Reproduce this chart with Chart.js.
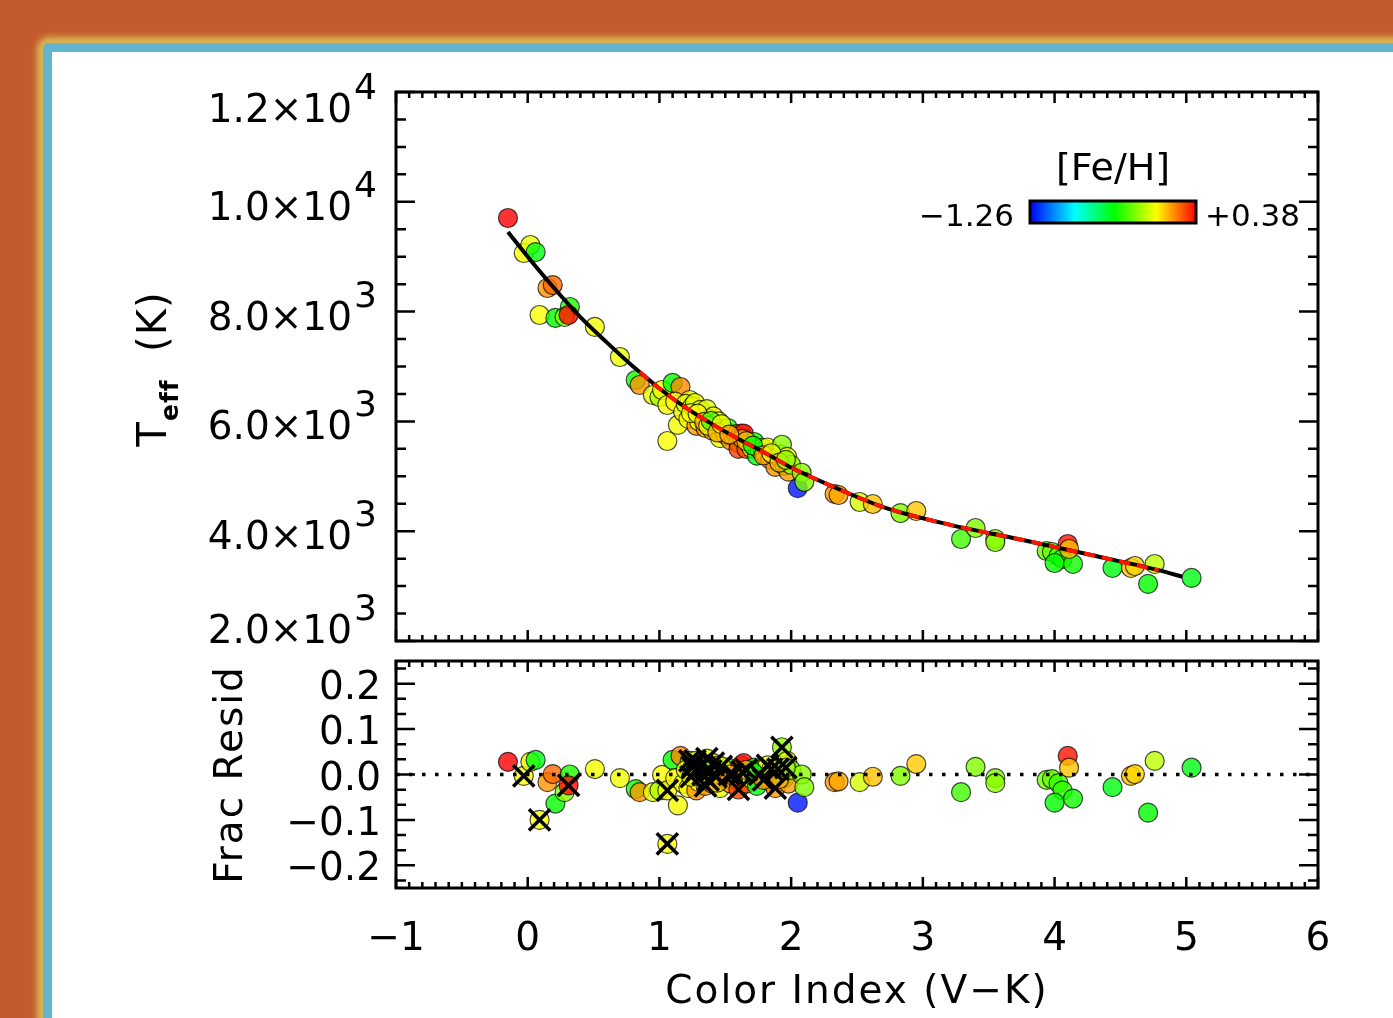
<!DOCTYPE html>
<html>
<head>
<meta charset="utf-8">
<script src="https://cdn.jsdelivr.net/npm/chart.js@4.4.1/dist/chart.umd.min.js"></script>
<style>
  html, body { margin: 0; padding: 0; width: 1393px; height: 1018px; overflow: hidden; background: #c35b2d; }
  #panel {
    position: absolute; left: 43px; top: 43px; width: 1420px; height: 1040px;
    background: #fff; border-left: 9px solid #62b6cf; border-top: 9px solid #62b6cf;
    border-top-left-radius: 6px; box-shadow: 0 0 6px 6px #dcb955;
  }
  canvas { position: absolute; left: 0; top: 0; }
</style>
</head>
<body>
<div id="panel"></div>
<canvas id="teffChart" width="1393" height="1018"></canvas>
<canvas id="residChart" width="1393" height="1018"></canvas>
<script>
// stars: V-K colour, Teff (K), fractional residual, [Fe/H], crossed in residual panel
const vk = [
  -0.15, -0.03, 0.02, 0.06, 0.15, 0.19, 0.09, 0.21, 0.32, 0.28, 0.31, 0.51, 0.70, 0.82, 0.85,
  0.95, 1.00, 1.02, 1.06, 1.10, 1.16, 1.06, 1.14, 1.12, 1.23,
  1.18, 1.20, 1.22, 1.25, 1.27, 1.28, 1.30, 1.31, 1.33, 1.35, 1.36, 1.38, 1.40, 1.41, 1.43,
  1.45, 1.46, 1.48, 1.50, 1.52, 1.54, 1.56, 1.58, 1.60, 1.62, 1.64, 1.60, 1.63, 1.66, 1.68,
  1.70, 1.72, 1.74, 1.76, 1.78, 1.80, 1.82, 1.84, 1.86, 1.88, 1.90, 1.92, 1.93, 1.95, 1.97,
  1.98, 2.00, 2.05, 2.08, 2.10,
  2.33, 2.36, 2.52, 2.62, 2.83, 2.95, 3.29, 3.40, 3.55, 3.55, 3.94, 3.98, 4.03, 4.06, 4.00,
  4.14, 4.10, 4.11, 4.44, 4.58, 4.61, 4.76, 4.71, 5.04,
  1.24, 1.29, 1.34, 1.37, 1.39, 1.44, 1.47, 1.53, 1.66, 1.71, 1.79, 1.85, 1.91, 1.96
];
const teff = [
  9705, 9067, 9213, 9085, 8430, 8484, 7938, 7884, 8084, 7902, 7938, 7720, 7173, 6754, 6663,
  6481, 6444, 6572, 6299, 6700, 6627, 5643, 5935, 6360, 6390,
  6170, 6320, 6045, 6275, 6335, 5920, 6000, 6210, 6060, 5880, 6225, 6045, 5835, 6090, 5880,
  6000, 5695, 5875, 5760, 5880, 5655, 5745, 5770, 5605, 5780, 5780, 5500, 5680, 5500, 5590,
  5510, 5625, 5375, 5490, 5520, 5415, 5525, 5310, 5385, 5170, 5365, 5400, 5575, 5190, 5355,
  5085, 5210, 4785, 5065, 4900,
  4678, 4659, 4532, 4495, 4331, 4368, 3858, 4058, 3858, 3803, 3639, 3621, 3548, 3494, 3421,
  3403, 3767, 3676, 3330, 3330, 3366, 3403, 3040, 3148,
  6150, 6140, 5990, 5920, 6010, 5800, 5950, 5760, 5640, 5560, 5380, 5420, 5250, 5300
];
const resid = [
  0.028, -0.003, 0.028, 0.032, -0.017, 0.001, -0.100, -0.064, 0.000, -0.039, -0.024, 0.012, -0.008, -0.032, -0.039,
  -0.039, -0.035, -0.001, -0.035, 0.032, 0.041, -0.153, -0.068, -0.008, 0.030,
  -0.020, 0.010, -0.030, 0.015, 0.030, -0.035, -0.017, 0.020, 0.000, -0.025, 0.035, 0.010, -0.020, 0.025, -0.005,
  0.020, -0.030, 0.005, -0.010, 0.015, -0.020, 0.000, 0.010, -0.015, 0.020, 0.025, -0.033, 0.005, -0.020, 0.000,
  -0.010, 0.015, -0.025, 0.000, 0.010, -0.005, 0.020, -0.015, 0.005, -0.030, 0.012, 0.025, 0.060, -0.008, 0.030,
  -0.020, 0.010, -0.062, 0.000, -0.028,
  -0.017, -0.015, -0.017, -0.005, -0.003, 0.023, -0.039, 0.017, -0.008, -0.019, -0.012, -0.010, -0.019, -0.035, -0.062,
  -0.053, 0.041, 0.015, -0.028, -0.003, 0.001, 0.030, -0.084, 0.015,
  -0.005, 0.012, -0.010, -0.012, 0.008, -0.018, 0.018, 0.000, 0.010, 0.005, -0.012, 0.012, -0.010, 0.015
];
const feh = [
  0.38, -0.02, -0.05, -0.45, 0.15, 0.22, -0.02, -0.42, -0.38, -0.20, 0.36, -0.03, -0.04, -0.40, 0.15,
  -0.05, -0.15, -0.02, -0.02, -0.42, 0.17, -0.02, -0.03, 0.00, -0.05,
  -0.03, -0.06, -0.01, -0.18, -0.04, 0.14, -0.02, -0.05, -0.03, 0.13, -0.06, -0.20, 0.15, -0.02, -0.40,
  -0.04, -0.03, 0.12, -0.05, -0.38, 0.16, -0.03, 0.08, -0.18, 0.24, 0.36, 0.28, 0.15, 0.26, -0.42,
  -0.04, -0.40, -0.44, -0.05, -0.18, -0.02, -0.04, 0.08, 0.14, 0.15, -0.03, -0.18, -0.20, -0.40, -0.03,
  0.14, -0.18, -1.22, -0.20, -0.22,
  0.15, 0.12, -0.08, 0.08, -0.22, 0.07, -0.32, -0.22, -0.22, -0.20, -0.25, -0.25, -0.33, -0.35, -0.42,
  -0.40, 0.35, 0.08, -0.45, 0.08, 0.05, -0.12, -0.42, -0.45,
  -0.03, -0.02, 0.10, -0.05, -0.30, 0.10, -0.04, 0.12, 0.08, -0.42, 0.14, -0.05, 0.10, -0.18
];
const crossed = [
  0, 1, 0, 0, 0, 0, 1, 0, 0, 0, 1, 0, 0, 0, 0,
  0, 0, 0, 1, 0, 0, 1, 0, 0, 1,
  0, 0, 0, 1, 1, 0, 0, 1, 1, 1, 1, 0, 0, 1, 1,
  0, 0, 0, 0, 0, 0, 1, 0, 0, 0, 0, 1, 1, 0, 0,
  0, 0, 0, 1, 0, 0, 1, 0, 0, 1, 1, 0, 1, 0, 0,
  0, 0, 0, 0, 0,
  0, 0, 0, 0, 0, 0, 0, 0, 0, 0, 0, 0, 0, 0, 0,
  0, 0, 0, 0, 0, 0, 0, 0, 0,
  1, 1, 0, 1, 1, 0, 1, 1, 1, 0, 1, 1, 0, 1
];

// colour-temperature relation
const fitVK   = [-0.15, 0.00, 0.20, 0.40, 0.60, 0.80, 0.85, 1.00, 1.20, 1.40, 1.60, 1.80, 2.00, 2.30, 2.70, 3.20, 3.75, 4.27, 4.79, 4.97];
const fitTeff = [ 9450, 9000, 8430, 7900, 7440, 7000, 6900, 6600, 6250, 5950, 5680, 5430, 5160, 4830, 4440, 4120, 3845, 3570, 3290, 3170];
const redFrom = 0.85, redTo = 4.95;

// [Fe/H] range of the colour bar
const fehMin = -1.26, fehMax = 0.38;

const xTicks = [-1, 0, 1, 2, 3, 4, 5, 6];
const teffTicks = [2000, 4000, 6000, 8000, 10000, 12000];
const residTicks = [-0.2, -0.1, 0.0, 0.1, 0.2];

const FONT = '"DejaVu Sans", sans-serif';

// rainbow colour table: blue - cyan - green - yellow - red
const cmap = [[0, [0, 0, 255]], [0.27, [0, 255, 255]], [0.51, [0, 255, 0]], [0.76, [255, 255, 0]], [1, [255, 0, 0]]];
function fehColor(v, alpha) {
  let t = (v - fehMin) / (fehMax - fehMin);
  t = Math.max(0, Math.min(1, t));
  for (let i = 1; i < cmap.length; i++) {
    if (t <= cmap[i][0]) {
      const f = (t - cmap[i - 1][0]) / (cmap[i][0] - cmap[i - 1][0]);
      const c = cmap[i - 1][1].map((a, k) => Math.round(a + (cmap[i][1][k] - a) * f));
      return `rgba(${c[0]},${c[1]},${c[2]},${alpha})`;
    }
  }
  return `rgba(255,0,0,${alpha})`;
}
const minus = s => s.replace('-', '\u2212');

// IDL-style box with inward ticks on all four sides
function drawBox(chart, o) {
  const ctx = chart.ctx, a = chart.chartArea, xs = chart.scales.x, ys = chart.scales.y;
  ctx.save();
  ctx.strokeStyle = '#000';
  ctx.lineWidth = 2.5;
  ctx.beginPath();
  for (let k = Math.ceil(xs.min / o.xMinor - 1e-6); k <= Math.floor(xs.max / o.xMinor + 1e-6); k++) {
    const px = xs.getPixelForValue(k * o.xMinor);
    const len = k % o.xEvery === 0 ? 11 : 6;
    ctx.moveTo(px, a.bottom); ctx.lineTo(px, a.bottom - len);
    ctx.moveTo(px, a.top); ctx.lineTo(px, a.top + len);
  }
  for (let k = Math.ceil(ys.min / o.yMinor - 1e-6); k <= Math.floor(ys.max / o.yMinor + 1e-6); k++) {
    const py = ys.getPixelForValue(k * o.yMinor);
    const len = k % o.yEvery === 0 ? 19 : 10;
    ctx.moveTo(a.left, py); ctx.lineTo(a.left + len, py);
    ctx.moveTo(a.right, py); ctx.lineTo(a.right - len, py);
  }
  ctx.stroke();
  ctx.lineWidth = 3;
  ctx.strokeRect(a.left, a.top, a.right - a.left, a.bottom - a.top);
  ctx.restore();
}

const teffPlugin = {
  id: 'teffBox',
  afterDraw(chart) {
    drawBox(chart, { xMinor: 0.1, xEvery: 10, yMinor: 500, yEvery: 4 });
    const ctx = chart.ctx, a = chart.chartArea, ys = chart.scales.y;
    ctx.save();
    ctx.fillStyle = '#000';
    // y tick labels as m.m x 10^e
    teffTicks.forEach(v => {
      const e = Math.floor(Math.log10(v));
      const m = (v / Math.pow(10, e)).toFixed(1);
      const py = ys.getPixelForValue(v);
      const base = Math.max(a.top + 30, Math.min(a.bottom + 2, py + 18));
      ctx.font = '39px ' + FONT;
      ctx.textAlign = 'right';
      ctx.textBaseline = 'alphabetic';
      ctx.fillText(m + '\u00d710', 352, base);
      ctx.font = '36px ' + FONT;
      ctx.textAlign = 'left';
      ctx.fillText(String(e), 354, base - 23);
    });
    // y axis title
    ctx.translate(166, 369);
    ctx.rotate(-Math.PI / 2);
    ctx.textAlign = 'left';
    ctx.letterSpacing = '1px';
    const big = '40px ' + FONT, sub = 'bold 25px ' + FONT;
    ctx.font = big; const wT = ctx.measureText('T').width;
    ctx.font = sub; const wS = ctx.measureText('eff').width;
    ctx.font = big; const wK = ctx.measureText('  (K)').width;
    let u = -(wT + wS + wK) / 2;
    ctx.font = big; ctx.fillText('T', u, 0); u += wT;
    ctx.font = sub; ctx.fillText('eff', u, 12); u += wS;
    ctx.font = big; ctx.fillText('  (K)', u, 0);
    ctx.restore();

    // [Fe/H] colour bar
    ctx.save();
    const bx = 1030, by = 201, bw = 166, bh = 22;
    const g = ctx.createLinearGradient(bx, 0, bx + bw, 0);
    cmap.forEach(s => g.addColorStop(s[0], `rgb(${s[1].join(',')})`));
    ctx.fillStyle = g;
    ctx.fillRect(bx, by, bw, bh);
    ctx.strokeStyle = '#000';
    ctx.lineWidth = 3;
    ctx.strokeRect(bx, by, bw, bh);
    ctx.fillStyle = '#000';
    ctx.font = '38px ' + FONT;
    ctx.textAlign = 'center';
    ctx.fillText('[Fe/H]', bx + bw / 2, 180);
    ctx.font = '31px ' + FONT;
    ctx.textAlign = 'right';
    ctx.fillText(minus(fehMin.toFixed(2)), bx - 16, 226);
    ctx.textAlign = 'left';
    ctx.fillText('+' + fehMax.toFixed(2), bx + bw + 9, 226);
    ctx.restore();
  }
};

const residPlugin = {
  id: 'residBox',
  afterDraw(chart) {
    drawBox(chart, { xMinor: 0.1, xEvery: 10, yMinor: 0.1 / 3, yEvery: 3 });
    const ctx = chart.ctx, a = chart.chartArea, xs = chart.scales.x, ys = chart.scales.y;
    ctx.save();
    ctx.fillStyle = '#000';
    ctx.font = '39px ' + FONT;
    ctx.textBaseline = 'alphabetic';
    ctx.textAlign = 'right';
    residTicks.forEach(v => {
      ctx.fillText(minus(v.toFixed(1)).replace('\u22120.0', '0.0'), 381, ys.getPixelForValue(v) + 15);
    });
    ctx.textAlign = 'center';
    xTicks.forEach(v => {
      ctx.fillText(minus(String(v)), xs.getPixelForValue(v), 950);
    });
    ctx.letterSpacing = '2px';
    ctx.fillText('Color Index (V\u2212K)', 857, 1003);
    ctx.translate(242, (a.top + a.bottom) / 2);
    ctx.rotate(-Math.PI / 2);
    ctx.fillText('Frac Resid', 0, 0);
    ctx.restore();
  }
};

Chart.defaults.font.family = FONT;

const stars = vk.map((x, i) => ({ x: x, y: teff[i] }));
const starColors = feh.map(v => fehColor(v, 0.8));
const fitLine = fitVK.map((x, i) => ({ x: x, y: fitTeff[i] }));
const fitRed = fitLine.filter(p => p.x >= redFrom && p.x <= redTo);

new Chart(document.getElementById('teffChart'), {
  type: 'scatter',
  data: {
    datasets: [
      {
        data: fitRed, showLine: true, pointRadius: 0, borderColor: '#ff1400', borderWidth: 4,
        borderDash: [11, 7], cubicInterpolationMode: 'monotone'
      },
      {
        data: fitLine, showLine: true, pointRadius: 0, borderColor: '#000', borderWidth: 4,
        cubicInterpolationMode: 'monotone'
      },
      {
        data: stars, pointRadius: 9.5, pointBackgroundColor: starColors,
        pointBorderColor: 'rgba(0,0,0,0.7)', pointBorderWidth: 1.2
      }
    ]
  },
  options: {
    responsive: false,
    animation: false,
    events: [],
    layout: { padding: { left: 396, right: 75, top: 92, bottom: 377 } },
    plugins: { legend: { display: false }, tooltip: { enabled: false } },
    scales: {
      x: { type: 'linear', min: -1, max: 6, display: false },
      y: { type: 'linear', min: 2000, max: 12000, display: false }
    }
  },
  plugins: [teffPlugin]
});

const residPts = vk.map((x, i) => ({ x: x, y: resid[i] }));
const crossPts = residPts.filter((p, i) => crossed[i]);

new Chart(document.getElementById('residChart'), {
  type: 'scatter',
  data: {
    datasets: [
      {
        data: crossPts, pointStyle: 'crossRot', pointRadius: 15, pointBorderWidth: 3.5,
        pointBorderColor: '#000', pointBackgroundColor: 'rgba(0,0,0,0)'
      },
      {
        data: [{ x: -1, y: 0 }, { x: 6, y: 0 }], showLine: true, pointRadius: 0,
        borderColor: '#000', borderWidth: 3.5, borderDash: [3.5, 9.5]
      },
      {
        data: residPts, pointRadius: 9.5, pointBackgroundColor: starColors,
        pointBorderColor: 'rgba(0,0,0,0.7)', pointBorderWidth: 1.2
      }
    ]
  },
  options: {
    responsive: false,
    animation: false,
    events: [],
    layout: { padding: { left: 396, right: 75, top: 661, bottom: 130 } },
    plugins: { legend: { display: false }, tooltip: { enabled: false } },
    scales: {
      x: { type: 'linear', min: -1, max: 6, display: false },
      y: { type: 'linear', min: -0.25, max: 0.25, display: false }
    }
  },
  plugins: [residPlugin]
});
</script>
</body>
</html>
